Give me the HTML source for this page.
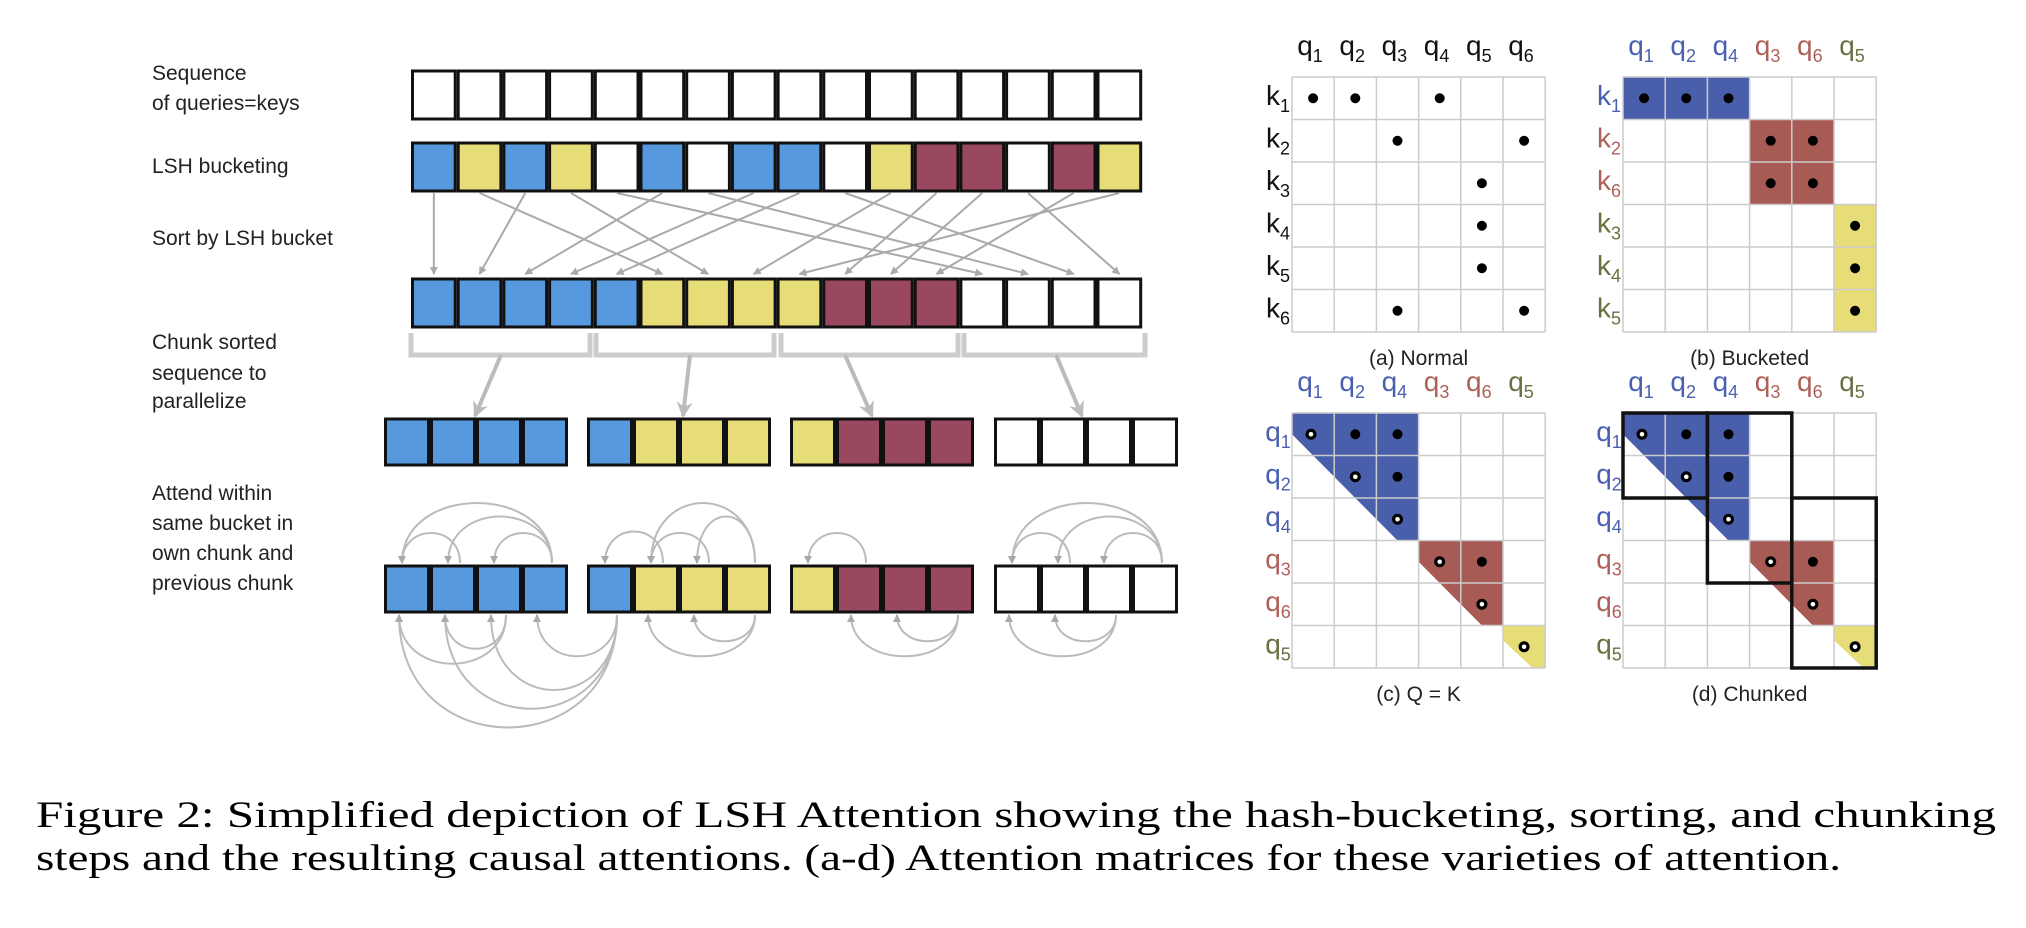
<!DOCTYPE html>
<html><head><meta charset="utf-8"><style>
html,body{margin:0;padding:0;background:#fff}
svg{display:block}
.lbl{font-family:"Liberation Sans",sans-serif;font-size:21px;fill:#222}
.m{font-family:"Liberation Sans Narrow","Liberation Sans",sans-serif;font-size:28px}
.cap{font-family:"Liberation Sans Narrow","Liberation Sans",sans-serif;font-size:21px;fill:#222}
.fig{font-family:"Liberation Serif",serif;font-size:37px;fill:#000}
</style></head><body>
<svg id="s" width="2026" height="928" viewBox="0 0 2026 928" xmlns="http://www.w3.org/2000/svg">
<defs>
<marker id="ah" markerWidth="8" markerHeight="8" refX="7" refY="4" orient="auto" markerUnits="userSpaceOnUse"><path d="M0,0 L8,4 L0,8 z" fill="#aaa"/></marker>
<marker id="ah2" markerWidth="16" markerHeight="16" refX="14" refY="8" orient="auto" markerUnits="userSpaceOnUse"><path d="M0,0 L16,8 L0,16 L5,8 z" fill="#bbb"/></marker>
</defs>
<g class="lbl">
<text x="152" y="80">Sequence</text>
<text x="152" y="110">of queries=keys</text>
<text x="152" y="173">LSH bucketing</text>
<text x="152" y="245">Sort by LSH bucket</text>
<text x="152" y="349">Chunk sorted</text>
<text x="152" y="380">sequence to</text>
<text x="152" y="408">parallelize</text>
<text x="152" y="500">Attend within</text>
<text x="152" y="530">same bucket in</text>
<text x="152" y="560">own chunk and</text>
<text x="152" y="590">previous chunk</text>
</g>
<g id="left"></g>
<g id="mat"></g>
<text class="fig" x="36" y="827" textLength="1960" lengthAdjust="spacingAndGlyphs">Figure 2: Simplified depiction of LSH Attention showing the hash-bucketing, sorting, and chunking</text>
<text class="fig" x="36" y="870" textLength="1805" lengthAdjust="spacingAndGlyphs">steps and the resulting causal attentions. (a-d) Attention matrices for these varieties of attention.</text>
</svg>
<script>
const NS="http://www.w3.org/2000/svg";
function el(p,t,a,txt){const e=document.createElementNS(NS,t);for(const k in a)e.setAttribute(k,a[k]);if(txt!==undefined)e.textContent=txt;p.appendChild(e);return e;}
const L=document.getElementById('left'),M=document.getElementById('mat');
const col={B:'#5799de',Y:'#e6dc78',M:'#9a4860',W:'#fff'};
const X0=411,W=45.7,H=48;
function row(seq,y,xs){seq.forEach((c,i)=>el(L,'rect',{x:xs[i]+1.5,y:y,width:W-3,height:H,fill:col[c],stroke:'#111','stroke-width':3}));}
const lin=[...Array(16)].map((_,i)=>X0+i*W);
row('WWWWWWWWWWWWWWWW'.split(''),71,lin);
const lsh='BYBYWBWBBWYMMWMY'.split('');
row(lsh,143,lin);
const sorted='BBBBBYYYYMMMWWWW'.split('');
const cnt={B:0,Y:5,M:9,W:12};
lsh.forEach((c,i)=>{const d=cnt[c]++;const x1=lin[i]+W/2,x2=lin[d]+W/2;el(L,'line',{x1:x1,y1:193,x2:x2,y2:274,stroke:'#aaa','stroke-width':2,'marker-end':'url(#ah)'});});
row(sorted,279,lin);
[[411,590],[596,774],[781,958],[964,1145]].forEach(([a,b])=>el(L,'path',{d:`M${a} 333 V355 H${b} V333`,fill:'none',stroke:'#ccc','stroke-width':5}));
[[501,355,475,416],[690,355,683,416],[845,355,872,416],[1056,355,1082,416]].forEach(([a,b,c,d])=>el(L,'line',{x1:a,y1:b,x2:c,y2:d,stroke:'#bbb','stroke-width':4,'marker-end':'url(#ah2)'}));
const G=[384,587,790,994];
const chunks=['BBBB','BYYY','YMMM','WWWW'];
const cx=[];
chunks.forEach((s,g)=>s.split('').forEach((c,i)=>cx.push(G[g]+i*46)));
function chunkRow(y){chunks.forEach((s,g)=>s.split('').forEach((c,i)=>el(L,'rect',{x:G[g]+i*46+1.5,y:y,width:43,height:46,fill:col[c],stroke:'#111','stroke-width':3})));}
chunkRow(419);chunkRow(566);
function arcUp(a,b,h){const x1=cx[a]+30,x2=cx[b]+18;el(L,'path',{d:`M${x1} 563 C${x1} ${563-h},${x2} ${563-h},${x2} 563`,fill:'none',stroke:'#bbb','stroke-width':2,'marker-end':'url(#ah)'});}
function arcDn(a,b,h){const x1=cx[a]+30,x2=cx[b]+15;el(L,'path',{d:`M${x1} 615 C${x1} ${615+h},${x2} ${615+h},${x2} 615`,fill:'none',stroke:'#bbb','stroke-width':2,'marker-end':'url(#ah)'});}
arcUp(3,0,80);arcUp(3,1,62);arcUp(1,0,40);arcUp(3,2,40);
arcUp(7,5,80);arcUp(7,6,62);arcUp(6,5,40);arcUp(5,4,42);
arcUp(9,8,40);
arcUp(15,12,80);arcUp(15,13,62);arcUp(13,12,40);arcUp(15,14,40);
arcDn(4,0,150);arcDn(4,1,125);arcDn(4,2,100);arcDn(4,3,55);arcDn(2,0,65);arcDn(2,1,45);
arcDn(7,5,55);arcDn(7,6,35);arcDn(11,9,55);arcDn(11,10,35);arcDn(14,12,55);arcDn(14,13,35);
const c=42.2,r=42.5;
const BL='#4a5fab',RD='#a85a55',YL='#e6dc78',cB='#4a5fb0',cR='#b0605a',cO='#6b7040';
function grid(x0,y0){for(let i=0;i<=6;i++){el(M,'line',{x1:x0+i*c,y1:y0,x2:x0+i*c,y2:y0+6*r,stroke:'#ccc','stroke-width':1.5});el(M,'line',{x1:x0,y1:y0+i*r,x2:x0+6*c,y2:y0+i*r,stroke:'#ccc','stroke-width':1.5});}}
function lab(x,y,ch,sub,fill,anchor){const t=el(M,'text',{x:x,y:y,class:'m',fill:fill,'text-anchor':anchor||'middle'});t.appendChild(document.createTextNode(ch));const s=el(t,'tspan',{'font-size':18,dy:7});s.textContent=sub;}
function dot(x,y,h){if(h){el(M,'circle',{cx:x,cy:y,r:5.5,fill:'#000'});el(M,'circle',{cx:x,cy:y,r:2.3,fill:'#fff'});}else el(M,'circle',{cx:x,cy:y,r:5,fill:'#000'});}
function poly(x0,y0,pts,f){el(M,'polygon',{points:pts.map(p=>(x0+p[0]*c)+','+(y0+p[1]*r)).join(' '),fill:f});}
let x0=1292,y0=77;
grid(x0,y0);
['1','2','3','4','5','6'].forEach((s,i)=>{lab(x0+i*c+18,y0-22,'q',s,'#111');lab(x0-14,y0+i*r+28,'k',s,'#111');});
[[0,0],[1,0],[3,0],[2,1],[5,1],[4,2],[4,3],[4,4],[2,5],[5,5]].forEach(([i,j])=>dot(x0+i*c+c/2,y0+j*r+r/2));
el(M,'text',{x:x0+3*c,y:y0+6*r+33,class:'cap','text-anchor':'middle'},'(a) Normal');
x0=1623;
el(M,'rect',{x:x0,y:y0,width:3*c,height:r,fill:BL});
el(M,'rect',{x:x0+3*c,y:y0+r,width:2*c,height:2*r,fill:RD});
el(M,'rect',{x:x0+5*c,y:y0+3*r,width:c,height:3*r,fill:YL});
grid(x0,y0);
const qs=[['1',cB],['2',cB],['4',cB],['3',cR],['6',cR],['5',cO]];
const ks=[['1',cB],['2',cR],['6',cR],['3',cO],['4',cO],['5',cO]];
qs.forEach((q,i)=>lab(x0+i*c+18,y0-22,'q',q[0],q[1]));
ks.forEach((k,i)=>lab(x0-14,y0+i*r+28,'k',k[0],k[1]));
[[0,0],[1,0],[2,0],[3,1],[4,1],[3,2],[4,2],[5,3],[5,4],[5,5]].forEach(([i,j])=>dot(x0+i*c+c/2,y0+j*r+r/2));
el(M,'text',{x:x0+3*c,y:y0+6*r+33,class:'cap','text-anchor':'middle'},'(b) Bucketed');
y0=413;
[1292,1623].forEach((xx,k)=>{
 poly(xx,y0,[[0,0],[3,0],[3,3],[2.5,3],[0,0.5]],BL);
 poly(xx,y0,[[3,3],[5,3],[5,5],[4.5,5],[3,3.5]],RD);
 poly(xx,y0,[[5,5],[6,5],[6,6],[5.7,6],[5,5.35]],YL);
 grid(xx,y0);
 qs.forEach((q,i)=>{lab(xx+i*c+18,y0-22,'q',q[0],q[1]);lab(xx-14,y0+i*r+28,'q',q[0],q[1]);});
 [[0.45,0.5,1],[1.5,0.5,0],[2.5,0.5,0],[1.5,1.5,1],[2.5,1.5,0],[2.5,2.5,1],[3.5,3.5,1],[4.5,3.5,0],[4.5,4.5,1],[5.5,5.5,1]].forEach(([i,j,h])=>dot(xx+i*c,y0+j*r,h));
 if(k==1){[[0,0,2,2],[2,0,2,4],[4,2,2,4]].forEach(([a,b,w,h])=>el(M,'rect',{x:xx+a*c,y:y0+b*r,width:w*c,height:h*r,fill:'none',stroke:'#111','stroke-width':3.5}));}
 el(M,'text',{x:xx+3*c,y:y0+6*r+33,class:'cap','text-anchor':'middle'},k?'(d) Chunked':'(c) Q = K');
});
</script>
</body></html>
